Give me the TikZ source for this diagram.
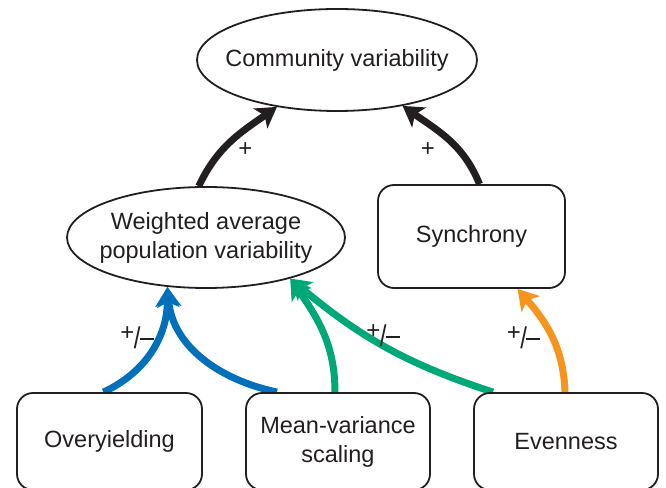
\documentclass[tikz,border=0pt]{standalone}
\usepackage{fontspec}
\setmainfont{Liberation Sans}
\usetikzlibrary{shapes.geometric,arrows.meta,backgrounds}
\definecolor{cblue}{RGB}{0,112,186}
\definecolor{cgreen}{RGB}{0,168,120}
\definecolor{corange}{RGB}{247,148,29}
\definecolor{cblack}{RGB}{35,31,32}
\newcommand{\pmlabel}{\raisebox{6pt}{+}\kern-0.5pt\raisebox{-2pt}{\scalebox{1}[1.25]{/}}\kern-1pt\rule[7pt]{14pt}{1.8pt}}
\begin{document}
\begin{tikzpicture}[x=1pt,y=1pt,
  every node/.style={font=\fontsize{23.5}{29}\selectfont, text=cblack},
  ell/.style={ellipse, draw=cblack, line width=1.8pt, fill=white, inner xsep=-20pt, inner ysep=0pt, align=center},
  rbox/.style={rectangle, rounded corners=16pt, draw=cblack, line width=1.8pt, fill=white, inner sep=0pt, align=center},
  link/.style={line width=7pt, -{Stealth[length=20pt,width=24pt,inset=5pt]}},
  lbl/.style={font=\fontsize{24}{28}\selectfont, inner sep=0pt}
]
\useasboundingbox (0,0) rectangle (666,487);
\node[ell, minimum width=280pt, minimum height=102pt] (top) at (337,427) {Community variability};
\node[ell, minimum width=278pt, minimum height=101pt] (wpv) at (206,249.5) {Weighted average\\population variability};
\node[rbox, minimum width=187pt, minimum height=103pt] (sync) at (471.5,250.5) {Synchrony};
\node[rbox, minimum width=185pt, minimum height=97pt] (over) at (109.5,45.5) {Overyielding};
\node[rbox, minimum width=184pt, minimum height=97pt] (mv) at (338,45.5) {Mean-variance\\scaling};
\node[rbox, minimum width=184pt, minimum height=97pt] (even) at (566,45.5) {Evenness};

\begin{scope}[on background layer]
\draw[link, cblack] (wpv.98) to[out=65,in=215] (top.218);
\draw[link, cblack] ([xshift=8pt]sync.north) to[out=112,in=325] (top.325);
\draw[link, cblue] ([xshift=-6pt]over.north) to[out=25,in=270] (wpv.232);
\draw[link, cblue] ([xshift=-61pt]mv.north) to[out=168,in=275] (wpv.232);
\draw[link, cgreen] ([xshift=-3pt]mv.north) to[out=90,in=305] (wpv.334);
\draw[link, cgreen] ([xshift=-73pt]even.north) to[out=162,in=320] (wpv.334);
\draw[link, corange] ([xshift=-1pt]even.north) to[out=92,in=311] ([xshift=46pt]sync.south);
\end{scope}

\node[lbl] (p1) at (245.5,337.5) {+};
\node[lbl] (p2) at (428,337.5) {+};
\node[lbl, anchor=base] (pm1) at (137,140) {\pmlabel};
\node[lbl, anchor=base] (pm2) at (383,142) {\pmlabel};
\node[lbl, anchor=base] (pm3) at (523.5,140) {\pmlabel};
\end{tikzpicture}
\end{document}
